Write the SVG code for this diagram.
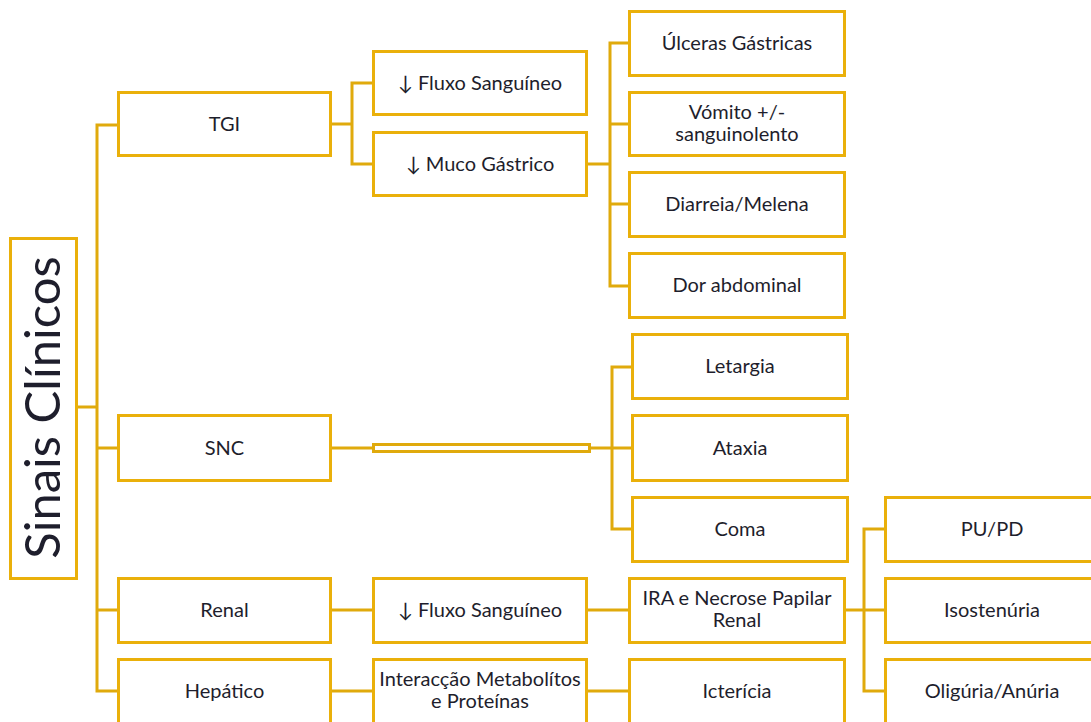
<svg xmlns="http://www.w3.org/2000/svg" width="1091" height="722" viewBox="0 0 1091 722">
<style>
.b{fill:#fff;stroke:#EAB00A;stroke-width:3}
.t{font-family:Lato,"Liberation Sans",sans-serif;font-size:20px;fill:#1e1e2c;text-anchor:middle}
.c{fill:none;stroke:#E0AA0C;stroke-width:3}
</style>
<rect width="1091" height="722" fill="#fff"/>
<g id="connectors">
<path class="c" d="M77 407H97M118 125H97V691H118M97 448H118M97 610H118"/>
<path class="c" d="M331 124H352M373 83H352V164H373"/>
<path class="c" d="M587 164H610M629 43H610V286H629M610 124H629M610 204H629"/>
<path class="c" d="M331 448H373M590 448H612M632 367H612V529H632M612 448H632"/>
<rect x="373.5" y="444.5" width="216" height="7" class="c" style="fill:#fff"/>
<path class="c" d="M331 610H373M587 610H629M845 610H864M885 529H864V691H885M864 610H885"/>
<path class="c" d="M331 691H373M587 691H629"/>
</g>
<g id="sinais"><rect class="b" x="10.5" y="238.5" width="66" height="340"/><text class="t" style="font-size:49px" transform="translate(60,407.5) rotate(-90)">Sinais Clínicos</text></g>
<g id="tgi"><rect class="b" x="118.5" y="92.5" width="212" height="63"/><text class="t" x="224.5" y="131">TGI</text></g>
<g id="snc"><rect class="b" x="118.5" y="415.5" width="212" height="65"/><text class="t" x="224.5" y="455">SNC</text></g>
<g id="renal"><rect class="b" x="118.5" y="578.5" width="212" height="64"/><text class="t" x="224.5" y="617">Renal</text></g>
<g id="hepatico"><rect class="b" x="118.5" y="659.5" width="212" height="70"/><text class="t" x="224.5" y="698">Hepático</text></g>
<g id="fluxo1"><rect class="b" x="373.5" y="51.5" width="213" height="63"/><text class="t" x="480" y="90">↓ Fluxo Sanguíneo</text></g>
<g id="muco"><rect class="b" x="373.5" y="132.5" width="213" height="63"/><text class="t" x="480" y="171">↓ Muco Gástrico</text></g>
<g id="fluxo2"><rect class="b" x="373.5" y="578.5" width="213" height="64"/><text class="t" x="480" y="617">↓ Fluxo Sanguíneo</text></g>
<g id="interaccao"><rect class="b" x="373.5" y="659.5" width="213" height="70"/><text class="t" x="480" y="686">Interacção Metabolítos</text><text class="t" x="480" y="708">e Proteínas</text></g>
<g id="ulceras"><rect class="b" x="629.5" y="11.5" width="215" height="64"/><text class="t" x="737" y="50">Úlceras Gástricas</text></g>
<g id="vomito"><rect class="b" x="629.5" y="92.5" width="215" height="63"/><text class="t" x="737" y="119">Vómito +/-</text><text class="t" x="737" y="141">sanguinolento</text></g>
<g id="diarreia"><rect class="b" x="629.5" y="172.5" width="215" height="64"/><text class="t" x="737" y="211">Diarreia/Melena</text></g>
<g id="dor"><rect class="b" x="629.5" y="253.5" width="215" height="64"/><text class="t" x="737" y="292">Dor abdominal</text></g>
<g id="letargia"><rect class="b" x="632.5" y="334.5" width="215" height="64"/><text class="t" x="740" y="373">Letargia</text></g>
<g id="ataxia"><rect class="b" x="632.5" y="415.5" width="215" height="65"/><text class="t" x="740" y="455">Ataxia</text></g>
<g id="coma"><rect class="b" x="632.5" y="497.5" width="215" height="64"/><text class="t" x="740" y="536">Coma</text></g>
<g id="ira"><rect class="b" x="629.5" y="578.5" width="215" height="64"/><text class="t" x="737" y="605">IRA e Necrose Papilar</text><text class="t" x="737" y="627">Renal</text></g>
<g id="ictericia"><rect class="b" x="629.5" y="659.5" width="215" height="70"/><text class="t" x="737" y="698">Icterícia</text></g>
<g id="pupd"><rect class="b" x="885.5" y="497.5" width="214" height="64"/><text class="t" x="992" y="536">PU/PD</text></g>
<g id="isostenuria"><rect class="b" x="885.5" y="578.5" width="214" height="64"/><text class="t" x="992" y="617">Isostenúria</text></g>
<g id="oliguria"><rect class="b" x="885.5" y="659.5" width="214" height="70"/><text class="t" x="992" y="698">Olig&#250;ria/Anúria</text></g>
</svg>
